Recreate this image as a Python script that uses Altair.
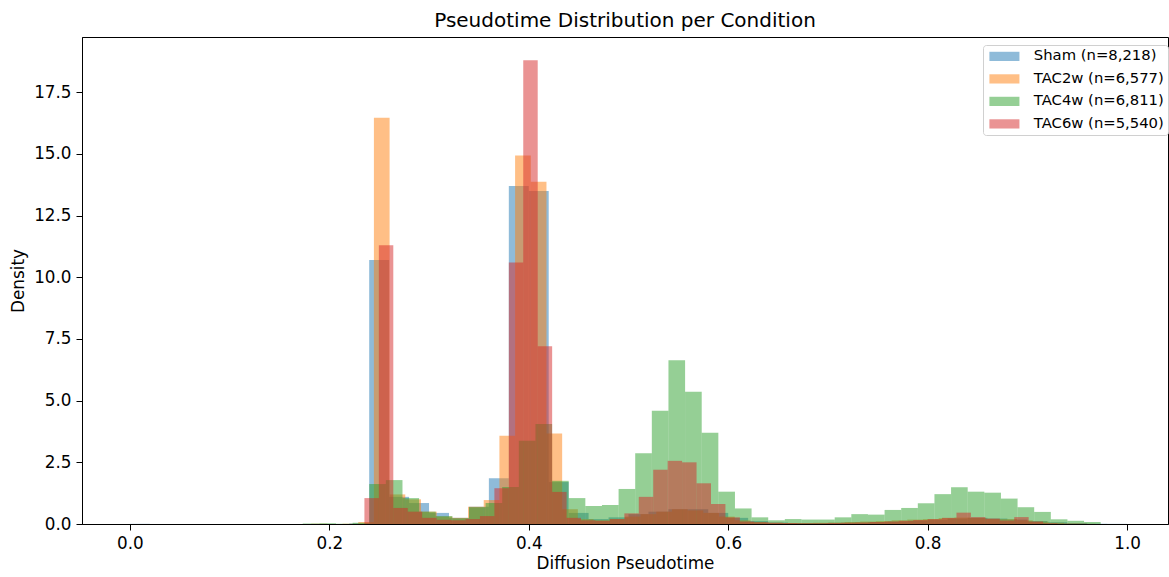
import altair as alt
import pandas as pd

# ---- data (density histograms, 50 bins per condition) ----
conditions = ["Sham (n=8,218)", "TAC2w (n=6,577)", "TAC4w (n=6,811)", "TAC6w (n=5,540)"]
colors = ["#1f77b4", "#ff7f0e", "#2ca02c", "#d62728"]

sham_bin_start, sham_bin_width = 0.0, 0.02
sham_density = [0.006, 0, 0, 0, 0, 0, 0, 0, 0, 0, 0, 0.02, 10.7, 1.1, 0.85, 0.45, 0.25, 0.7, 1.85, 13.7,
                13.5, 1.7, 0.45, 0.2, 0.27, 0.4, 0.5, 0.6, 0.6, 0.45, 0.25, 0.12, 0.06, 0.04, 0.04, 0.05, 0.06,
                0.08, 0.1, 0.13, 0.16, 0.22, 0.25, 0.22, 0.18, 0.12, 0.07, 0.03, 0.01, 0.005]

tac2w_bin_start, tac2w_bin_width = 0.1818, 0.01573
tac2w_density = [0.01, 0, 0.01, 0.08, 16.47, 1.2, 1.0, 0.5, 0.3, 0.25, 0.7, 0.97, 3.58, 14.94, 13.87, 3.67,
                 0.6, 0.2, 0.15, 0.2, 0.3, 0.4, 0.5, 0.6, 0.55, 0.45, 0.3, 0.15, 0.08, 0.05, 0.04, 0.04, 0.05,
                 0.06, 0.08, 0.1, 0.12, 0.15, 0.18, 0.2, 0.24, 0.26, 0.24, 0.2, 0.2, 0.15, 0.1, 0.05, 0.02, 0.01]

tac4w_bin_start, tac4w_bin_width = 0.14, 0.01667
tac4w_density = [0, 0, 0.02, 0.03, 0.01, 0.05, 1.62, 1.78, 1.05, 0.5, 0.32, 0.23, 0.68, 0.85, 1.5, 3.37,
                 4.05, 1.75, 1.05, 0.73, 0.77, 1.42, 2.87, 4.59, 6.64, 5.36, 3.70, 1.31, 0.63, 0.27, 0.15, 0.2,
                 0.18, 0.18, 0.27, 0.40, 0.38, 0.57, 0.65, 0.84, 1.21, 1.49, 1.31, 1.27, 1.03, 0.68, 0.49, 0.19,
                 0.13, 0.08]

tac6w_bin_start, tac6w_bin_width = 0.2352, 0.01448
tac6w_density = [1.05, 11.3, 0.65, 0.5, 0.25, 0.17, 0.15, 0.2, 0.32, 1.45, 10.6, 18.8, 7.2, 1.3, 0.25, 0.15,
                 0.13, 0.2, 0.43, 1.1, 2.2, 2.56, 2.5, 1.65, 0.81, 0.27, 0.1, 0.07, 0.05, 0.04, 0.03, 0.03,
                 0.04, 0.05, 0.06, 0.08, 0.1, 0.13, 0.16, 0.2, 0.25, 0.46, 0.28, 0.22, 0.14, 0.28, 0.1, 0.03,
                 0.01, 0.01]

x_ticks = [0.0, 0.2, 0.4, 0.6, 0.8, 1.0]
y_ticks = [0.0, 2.5, 5.0, 7.5, 10.0, 12.5, 15.0, 17.5]

series = [
    (conditions[0], sham_bin_start, sham_bin_width, sham_density),
    (conditions[1], tac2w_bin_start, tac2w_bin_width, tac2w_density),
    (conditions[2], tac4w_bin_start, tac4w_bin_width, tac4w_density),
    (conditions[3], tac6w_bin_start, tac6w_bin_width, tac6w_density),
]
rows = []
for name, start, width, dens in series:
    for k, d in enumerate(dens):
        rows.append({"condition": name, "x0": start + k * width, "x1": start + (k + 1) * width,
                     "density": d})
df = pd.DataFrame(rows)

FONT = "DejaVu Sans"
FS = 16.8

chart = alt.Chart(df).mark_rect(opacity=0.5).encode(
    x=alt.X("x0:Q",
            scale=alt.Scale(domain=[-0.048, 1.041], nice=False, zero=False),
            axis=alt.Axis(values=x_ticks, format=".1f", title="Diffusion Pseudotime")),
    x2="x1:Q",
    y=alt.Y("density:Q",
            scale=alt.Scale(domain=[0, 19.74], nice=False),
            axis=alt.Axis(values=y_ticks, format=".1f", title="Density")),
    y2=alt.datum(0),
    color=alt.Color("condition:N",
                    scale=alt.Scale(domain=conditions, range=colors),
                    legend=alt.Legend(
                        title=None, orient="none", legendX=901, legendY=8,
                        symbolType="M-1,-0.66L3.29,-0.66L3.29,0.66L-1,0.66Z",
                        symbolSize=196, symbolOpacity=0.5, symbolStrokeWidth=0, symbolOffset=2,
                        labelFontSize=14.8, labelFont=FONT, labelColor="black",
                        labelOffset=30, labelLimit=400, labelExpr="datum.label + '  '",
                        padding=4, rowPadding=6.5,
                        fillColor="white", strokeColor="#d0d0d0", cornerRadius=3)),
).properties(
    width=1086, height=487,
    title=alt.TitleParams("Pseudotime Distribution per Condition", fontSize=20, font=FONT,
                          fontWeight="normal", color="black", offset=6, anchor="middle"),
    autosize=alt.AutoSizeParams(type="none"),
    padding={"left": 82, "top": 37, "right": 1, "bottom": 53},
).configure(font=FONT, background="white").configure_view(
    stroke="black", strokeWidth=1
).configure_axis(
    domainColor="black", domainWidth=1, tickColor="black", tickWidth=1, tickSize=6,
    labelColor="black", labelFontSize=FS, labelFont=FONT, labelPadding=5,
    titleColor="black", titleFontSize=FS, titleFont=FONT, titleFontWeight="normal",
    grid=False,
).configure_axisX(titlePadding=4).configure_axisY(titlePadding=6)

chart.save("out.html", embed_options={"renderer": "svg", "actions": False})
